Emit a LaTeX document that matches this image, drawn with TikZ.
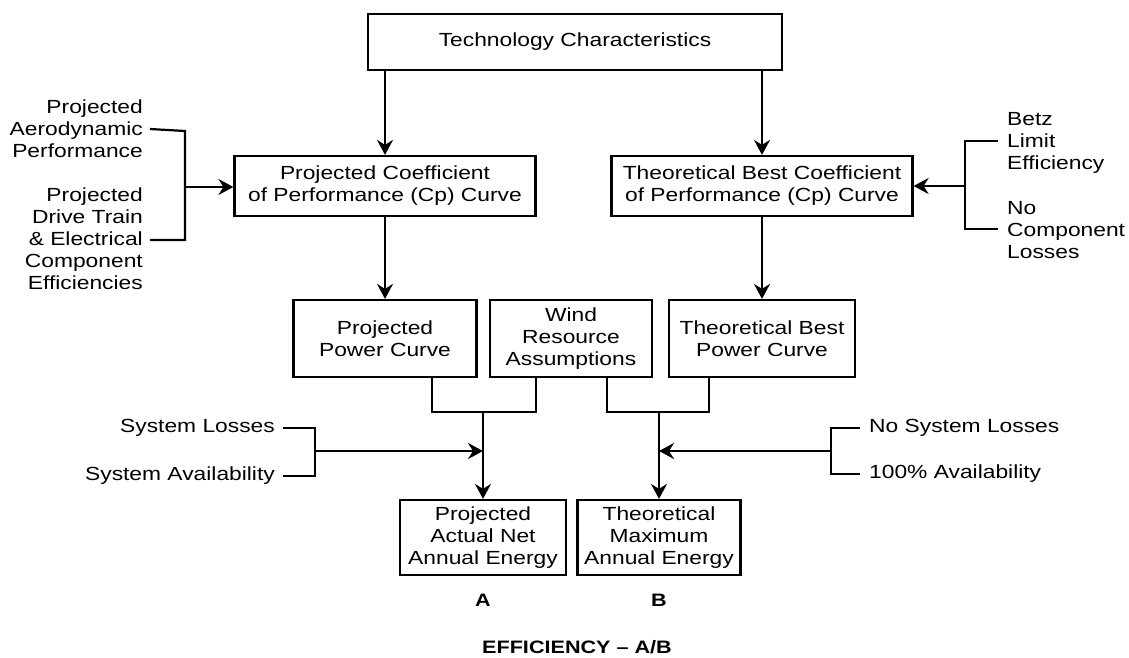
\documentclass[tikz,border=0pt]{standalone}
\usepackage{fontspec}
\setmainfont[FakeStretch=1.2]{Liberation Sans}
\usetikzlibrary{arrows.meta,calc}
\begin{document}
\begin{tikzpicture}[x=1pt,y=-1pt,
  every node/.style={font=\fontsize{19}{22}\selectfont, inner sep=0pt},
  box/.style={draw, line width=2.2pt, align=center},
  ln/.style={line width=2.2pt},
  arr/.style={line width=2.2pt, -{Stealth[length=15pt,width=16pt,inset=5pt]}},
  lbl/.style={font=\bfseries\fontsize{18}{22}\selectfont}
]
\useasboundingbox (0,0) rectangle (1129,657);
% boxes
\node[box, minimum width=414pt, minimum height=56pt] (tech) at (575,42) {Technology Characteristics};
\node[box, minimum width=301pt, minimum height=60pt] (pcp) at (385,186) {Projected Coefficient\\of Performance (Cp) Curve};
\node[box, minimum width=301pt, minimum height=60pt] (tcp) at (762,186) {Theoretical Best Coefficient\\of Performance (Cp) Curve};
\node[box, minimum width=183pt, minimum height=77pt] (ppc) at (385,338.5) {Projected\\Power Curve};
\node[box, minimum width=162pt, minimum height=77pt] (wind) at (571,338.5) {Wind\\Resource\\Assumptions};
\node[box, minimum width=186pt, minimum height=77pt] (tpc) at (762,338.5) {Theoretical Best\\Power Curve};
\node[box, minimum width=166pt, minimum height=75pt] (A) at (483,537.5) {Projected\\Actual Net\\Annual Energy};
\node[box, minimum width=163pt, minimum height=75pt] (B) at (659,537.5) {Theoretical\\Maximum\\Annual Energy};
% labels
\node[lbl] (la) at (483,600) {A};
\node[lbl] (lb) at (659,600) {B};
\node[lbl] (eff) at (577,647) {EFFICIENCY -- A/B};
% side texts upper left
\node[align=right, anchor=east] (aero) at (143,129) {Projected\\Aerodynamic\\Performance};
\node[align=right, anchor=east] (drive) at (143,239) {Projected\\Drive Train\\\& Electrical\\Component\\Efficiencies};
% upper right
\node[align=left, anchor=west] (betz) at (1007,143) {Betz\\Limit\\Efficiency};
\node[align=left, anchor=west] (nocomp) at (1007,230) {No\\Component\\Losses};
% lower left
\node[anchor=east] (sysl) at (275,428) {System Losses};
\node[anchor=east] (sysa) at (275,476) {System Availability};
% lower right
\node[anchor=west] (nosys) at (869,428) {No System Losses};
\node[anchor=west] (avail) at (869,474) {100\% Availability};
% coordinates
\coordinate (jL) at (483,412);
\coordinate (jR) at (659,412);
\coordinate (ppcO) at (432,377);
\coordinate (windOL) at (536,377);
\coordinate (windOR) at (607,377);
\coordinate (tpcO) at (709,377);
\coordinate (brUL) at (185,187);
\coordinate (brUR) at (965,186);
\coordinate (brLL) at (315,451);
\coordinate (brLR) at (831,451);
% connectors top
\draw[arr] (tech.south -| pcp.north) -- (pcp.north);
\draw[arr] (tech.south -| tcp.north) -- (tcp.north);
\draw[arr] (pcp.south) -- (ppc.north);
\draw[arr] (tcp.south) -- (tpc.north);
% junctions
\draw[ln] (ppcO) |- (jL) -| (windOL);
\draw[ln] (windOR) |- (jR) -| (tpcO);
\draw[arr] (jL) -- (A.north);
\draw[arr] (jR) -- (B.north);
% upper left bracket
\draw[ln] ([xshift=7pt]aero.east) -- (185,131) -- (185,240) -- ([xshift=7pt]drive.east |- 0,240);
\draw[arr] (brUL) -- (brUL -| pcp.west);
% upper right bracket
\draw[ln] (998,141) -- (965,141) -- (965,229) -- (998,229);
\draw[arr] (brUR) -- (tcp.east);
% lower left bracket
\draw[ln] ([xshift=8pt]sysl.east) -- (315,428) -- (315,476) -- ([xshift=8pt]sysa.east);
\draw[arr] (brLL) -- (brLL -| jL);
% lower right bracket
\draw[ln] ([xshift=-9pt]nosys.west) -- (831,428) -- (831,474) -- ([xshift=-9pt]avail.west);
\draw[arr] (brLR) -- (brLR -| jR);
\end{tikzpicture}
\end{document}
